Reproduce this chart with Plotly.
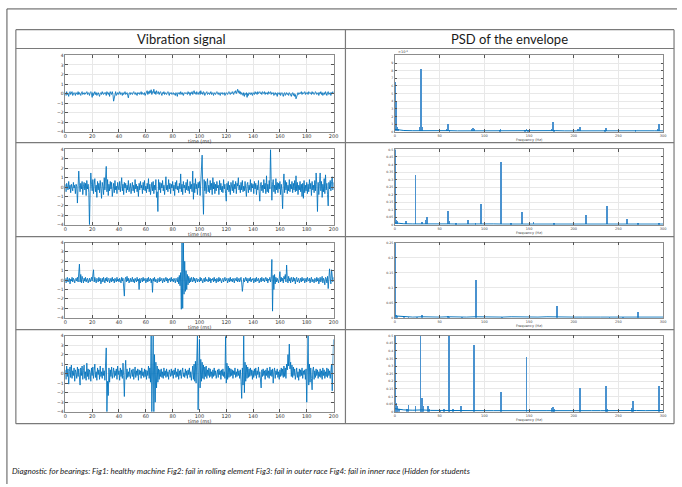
import plotly.graph_objects as go

W, H = 682, 487

# ---------------- data ----------------
time_step_ms = 0.5  # sample spacing of the vibration signals

vib_healthy = [
 0.1,-0.2,0.2,-0.1,0.0,-0.3,0.1,0.2,-0.1,0.0,0.2,-0.2,-0.1,0.1,0.0,-0.2,0.1,0.0,-0.1,0.2,
 -0.1,0.1,0.0,-0.2,0.1,0.2,-0.1,0.0,0.1,-0.1,0.0,0.1,0.2,-0.1,0.1,0.0,-0.2,0.1,0.2,0.0,
 -0.4,0.1,-0.2,0.0,0.2,-0.1,0.1,-0.2,0.0,0.1,-0.1,-0.3,0.0,0.1,-0.1,0.2,0.0,-0.1,0.1,0.0,
 0.1,-0.2,0.2,0.0,-0.1,0.1,-0.3,0.2,0.0,-0.1,0.2,-0.1,-0.8,-0.3,0.1,0.2,-0.2,0.0,0.1,-0.1,
 0.0,0.2,-0.1,0.1,0.0,-0.2,0.1,-0.1,0.0,0.2,-0.1,0.0,0.1,-0.2,-0.45,0.0,0.1,-0.1,0.1,0.0,
 -0.1,0.1,0.2,0.0,-0.1,0.1,0.0,-0.2,0.1,0.0,0.1,-0.1,0.0,0.2,-0.1,0.1,0.0,-0.1,0.1,-0.2,
 0.0,0.1,0.3,-0.1,0.2,0.0,0.3,0.1,0.4,-0.1,0.2,0.1,0.45,0.0,0.2,-0.1,0.3,0.1,0.0,0.2,
 -0.1,0.1,0.2,0.0,-0.2,0.1,0.0,0.2,-0.1,0.1,0.0,-0.1,0.1,0.2,0.0,-0.2,0.1,0.0,0.1,-0.1,
 0.0,0.1,-0.1,0.0,-0.2,0.1,0.0,-0.3,0.1,0.0,0.1,-0.1,0.2,0.0,-0.1,0.1,-0.2,0.0,0.1,0.0,
 0.1,0.0,-0.1,0.2,0.0,0.1,-0.2,0.1,0.0,0.2,-0.1,0.1,0.3,0.0,0.1,-0.1,0.2,0.0,-0.1,0.1,
 0.2,-0.1,0.3,0.0,0.1,-0.1,0.2,0.1,-0.2,0.0,0.1,0.2,-0.1,0.0,0.1,-0.1,0.0,0.2,-0.1,0.1,
 0.0,-0.2,0.1,0.0,-0.1,0.1,0.2,0.0,-0.1,0.1,0.0,-0.2,0.1,0.0,0.1,-0.1,0.0,0.1,-0.2,0.0,
 0.1,0.0,-0.1,0.1,0.2,0.0,-0.1,0.1,0.0,0.2,0.1,-0.1,0.2,0.1,0.3,0.0,0.2,0.45,0.1,0.3,
 0.0,0.2,-0.1,0.1,0.0,-0.2,0.1,-0.3,0.0,-0.1,0.1,-0.4,0.0,-0.2,0.1,0.0,-0.1,0.1,0.0,-0.2,
 0.1,0.0,-0.1,0.2,0.0,0.1,-0.1,0.2,0.0,0.1,0.2,0.0,0.1,-0.1,0.2,0.1,0.0,0.2,-0.1,0.1,
 0.0,0.1,-0.1,0.2,0.0,0.1,0.2,-0.1,0.1,0.0,0.1,-0.2,0.0,0.1,-0.1,0.0,-0.3,0.1,0.0,-0.1,
 0.1,-0.2,0.0,0.1,-0.1,-0.3,0.0,0.1,-0.2,0.0,0.1,-0.1,0.0,-0.2,0.1,0.0,-0.1,-0.3,0.0,0.1,
 -0.2,0.0,-0.3,-0.1,-0.55,-0.2,0.0,0.1,-0.1,0.0,0.1,0.0,0.2,-0.1,0.1,0.0,0.1,0.2,-0.1,0.1,
 0.0,0.1,-0.1,0.2,0.1,0.0,0.1,-0.1,0.2,0.0,0.1,-0.1,0.0,0.2,0.1,-0.1,0.0,0.1,-0.2,0.1,
 0.0,0.2,-0.1,0.1,-0.2,0.0,0.1,-0.1,0.2,0.0,-0.2,0.1,0.2,-0.1,0.0,0.1,-0.2,0.1,0.0,0.2,
 0.0]

vib_rolling = [
 0.3,-0.5,0.4,0.1,-0.3,0.6,-0.2,0.2,-0.6,0.3,0.0,-0.4,0.5,-0.1,0.2,-0.7,0.3,0.1,-1.7,-0.3,
 1.7,0.2,-0.5,0.4,-0.2,0.6,-0.8,0.1,0.5,-0.3,0.4,-0.9,0.7,-0.2,0.3,-0.6,-4.0,-0.5,1.5,0.3,
 -0.4,0.8,-0.7,0.3,0.9,-0.5,0.2,-1.1,0.6,-0.3,0.4,-0.6,0.7,-0.2,-1.2,0.5,0.1,-0.8,1.0,-0.3,
 0.6,2.2,-0.5,0.8,-0.9,0.3,-0.4,0.6,-0.2,0.5,-1.0,0.2,0.4,-0.6,0.7,-0.3,0.1,-0.7,0.5,0.0,
 -0.3,0.6,-0.5,0.2,1.0,-0.4,0.3,-0.8,0.5,-0.1,0.4,-0.6,0.2,-0.3,0.7,-0.5,0.1,0.4,-0.7,0.3,
 0.5,-0.4,0.2,-0.6,0.8,-0.2,0.3,-0.5,0.1,-1.0,0.4,-0.3,0.6,-0.1,0.2,-0.7,0.5,-0.3,0.7,-0.4,
 0.1,-0.6,0.4,-0.2,0.9,-0.5,0.3,-0.8,0.2,0.5,-0.4,0.6,-0.7,0.2,-0.3,0.8,-1.1,-0.5,-2.6,0.8,
 -0.3,0.5,-0.6,0.4,-0.1,0.7,-0.4,0.2,-0.8,0.6,1.1,-0.3,0.2,-0.5,0.8,-0.2,0.4,-0.7,0.3,-0.1,
 0.6,-0.4,0.2,-0.9,0.5,-0.2,0.7,-0.3,0.1,-0.6,0.4,-0.2,1.4,-0.5,0.3,-0.8,0.6,-0.1,0.2,-0.6,
 0.5,-0.3,0.8,-0.4,0.1,-0.7,0.6,-0.2,0.3,-0.5,1.7,-1.3,0.4,-0.6,0.9,-0.2,0.3,-0.8,0.5,-0.1,
 0.6,-0.9,0.2,1.2,3.4,-0.5,-2.9,0.8,-0.4,0.6,-0.7,0.3,0.9,-0.5,0.2,-0.6,0.7,-0.3,0.4,-0.8,
 1.0,-0.2,0.5,-0.7,0.3,-0.4,0.6,-0.1,0.2,-0.8,0.7,-0.3,0.4,-0.5,0.1,-0.6,0.8,-0.2,0.3,-0.7,
 -1.5,0.4,-0.3,0.6,-0.5,0.2,-0.8,0.5,0.1,-0.4,0.7,-0.6,0.3,-0.2,0.6,-0.7,0.4,0.1,1.0,-0.3,
 0.2,-0.6,0.5,-0.3,0.7,-0.5,0.1,-0.4,0.6,-0.2,-1.0,0.3,0.5,-0.6,0.2,-0.3,0.8,-0.5,0.4,-0.1,
 0.3,-0.7,0.6,-0.2,0.4,-0.8,0.2,-0.3,0.7,-0.5,-1.5,0.3,0.5,-0.4,0.2,-0.6,0.8,-0.2,0.4,-0.7,
 1.2,-0.5,0.3,-0.6,0.7,-0.2,4.0,0.6,-1.4,0.3,0.8,-0.5,0.2,-0.7,0.9,-0.3,0.5,-0.6,0.4,-0.2,
 0.6,-0.8,0.3,-0.4,-2.3,0.2,1.4,-0.6,0.7,-0.3,0.5,-0.7,0.2,-0.4,0.8,-0.5,0.3,-0.2,0.6,-0.6,
 0.4,-0.3,0.7,-0.5,1.2,-0.4,0.5,-0.8,0.2,-0.3,0.6,-0.5,0.3,-1.0,0.4,-1.2,0.7,-0.6,0.2,-0.4,
 0.5,-0.7,0.3,-0.5,0.8,-0.2,0.4,-0.9,0.6,-0.3,0.2,-0.6,0.7,-0.4,1.5,0.3,-2.6,0.5,-0.8,0.4,
 1.5,-0.4,0.6,-1.1,0.3,-0.5,0.9,-0.7,1.3,-0.3,0.4,-0.8,-2.0,0.5,-0.2,0.7,-0.4,0.6,1.1,-0.3,
 0.5]

vib_outer = [
 0.2,-0.3,0.1,0.3,-0.2,0.0,0.2,-0.4,0.1,-0.1,0.3,-0.2,0.2,0.0,-0.3,0.1,0.2,-0.1,0.3,-0.2,
 0.5,1.7,-0.2,0.6,-0.3,0.4,0.1,-0.3,0.2,-0.1,0.3,-0.2,0.1,0.2,-0.3,0.0,0.2,-0.2,0.1,0.3,
 -0.1,0.4,1.1,-0.2,0.3,0.0,-0.3,0.2,0.1,-0.2,0.3,-0.1,0.2,-0.4,0.1,0.2,-0.2,0.3,0.0,-0.3,
 0.2,-0.1,0.3,-0.2,0.1,0.2,-0.3,0.0,0.2,-0.2,0.3,-0.1,0.1,-0.3,0.2,0.0,-0.2,0.3,-0.1,0.1,
 -0.2,0.2,0.0,-0.3,0.3,-0.1,0.2,-0.5,-1.7,0.1,0.3,-0.2,0.4,-0.1,0.2,-0.3,0.1,0.2,-0.2,0.0,
 0.3,-0.2,0.1,-0.3,0.2,0.0,-0.2,0.3,-0.1,0.1,-1.0,0.2,-0.3,0.1,0.2,-0.2,0.3,-0.1,0.0,0.2,
 -0.3,0.1,0.2,-0.2,0.3,-0.1,0.0,0.2,-0.3,0.1,-1.3,0.2,-0.1,0.3,-0.2,0.1,0.0,-0.3,0.2,0.1,
 -0.2,0.3,-0.1,0.1,0.2,-0.3,0.0,0.2,-0.2,0.1,0.3,-0.1,0.2,-0.3,0.1,0.0,0.2,-0.2,0.3,-0.1,
 0.1,-0.2,0.2,0.0,-0.3,0.2,0.1,-0.2,0.3,-0.4,0.5,-0.6,0.8,-3.1,4.0,-3.0,4.0,-1.5,2.0,-1.2,
 1.0,-1.0,0.6,-0.5,0.4,-0.3,0.2,-0.2,0.3,0.0,-0.2,0.3,-0.1,0.2,-0.3,0.1,0.2,-0.2,0.1,0.0,
 -0.2,0.3,-0.1,0.2,0.0,-0.3,0.1,0.2,-0.2,0.3,-0.1,0.1,0.0,-0.2,0.3,-0.1,0.2,-0.3,0.1,0.0,
 0.2,-0.2,0.3,-0.1,0.1,-0.3,0.2,0.0,-0.2,0.3,-0.1,0.2,0.0,-0.3,0.1,0.2,-0.2,0.1,0.3,-0.1,
 0.0,0.2,-0.3,0.1,0.2,-0.2,0.3,-0.1,0.1,-0.2,0.2,0.0,-0.3,0.2,0.1,-0.1,0.3,-0.2,0.0,0.2,
 -0.2,0.1,0.3,-0.3,-1.2,-0.5,0.2,-0.2,0.1,0.3,-0.1,0.2,-0.3,0.0,0.2,-0.1,0.3,-0.2,0.1,0.0,
 0.2,-0.3,0.1,0.2,-0.2,0.3,-0.1,0.0,0.2,-0.3,0.1,0.2,-0.2,0.3,0.0,-0.1,0.2,-0.2,0.1,0.3,
 -0.1,0.2,-0.3,0.1,0.0,0.3,-0.2,0.2,2.2,-3.3,0.5,-1.0,0.6,-0.4,0.3,-0.2,0.2,0.0,-0.3,0.2,
 0.9,-0.2,0.3,-0.1,0.2,-0.3,0.4,0.1,0.6,-0.2,1.6,0.2,-0.3,0.4,-0.1,0.2,-0.3,0.3,0.0,-0.2,
 0.3,-0.1,0.2,-0.4,0.1,0.3,-0.2,0.0,0.2,-0.3,0.1,0.2,-0.2,0.3,-0.1,0.0,0.2,-0.3,0.1,0.2,
 -0.2,0.3,0.0,-0.1,0.2,-0.3,0.1,0.3,-0.2,0.1,0.0,-0.3,0.2,0.1,-0.2,0.3,-0.1,0.2,-0.4,0.1,
 0.3,-0.2,0.1,0.4,-0.3,0.2,0.0,-0.5,0.3,0.2,-0.3,0.4,-0.9,0.6,1.2,0.2,-0.4,1.1,0.0,-0.2,
 0.3]

vib_inner = [
 0.4,-0.6,0.8,-0.3,0.5,-1.1,0.2,0.7,-0.4,0.9,-0.5,0.3,-0.2,0.6,-0.8,0.4,0.1,-0.5,0.7,-0.3,
 0.5,-0.4,-1.2,0.6,-0.2,0.8,-0.6,0.3,0.9,-0.5,0.2,-0.7,1.1,-0.3,0.5,-0.6,0.4,0.1,-0.8,0.6,
 -0.2,0.7,-0.5,0.3,1.0,-0.4,0.2,-0.7,0.6,-0.1,0.4,-0.6,0.8,-0.3,0.2,-0.5,0.6,-0.2,0.3,-0.7,
 0.5,2.7,-4.0,-0.8,-2.3,0.6,-0.9,0.4,-0.3,0.7,-0.5,0.2,0.6,-0.4,0.3,-0.2,0.5,-0.6,0.8,-0.1,
 0.3,-0.7,0.6,-0.3,0.4,-0.5,1.1,-0.2,-2.4,0.3,1.4,-0.6,0.5,-0.4,0.2,-0.3,0.6,-0.5,0.1,0.4,
 -0.3,0.5,-0.6,0.2,0.7,-0.4,0.3,-0.2,0.5,-0.7,0.4,-0.1,0.3,-0.5,0.6,-0.2,0.2,-0.4,0.5,-0.3,
 0.4,-0.6,0.3,-0.2,0.8,-0.5,0.6,-0.9,4.0,-4.0,1.5,4.0,-4.0,2.0,-3.0,1.2,-1.5,0.8,-0.9,0.5,
 -0.6,0.4,-0.3,0.5,-0.4,0.2,-0.5,0.6,-0.2,0.3,-0.4,0.5,-0.3,0.2,-0.6,0.4,0.1,-0.3,0.5,-0.2,
 0.3,-0.5,0.4,-0.1,0.6,-0.4,0.2,-0.3,0.5,-0.6,0.3,-0.2,0.4,-0.5,0.2,0.6,-0.3,0.1,-0.4,0.5,
 -0.2,0.3,-0.5,0.4,-0.1,0.6,-0.4,0.2,-0.7,0.5,0.8,-0.6,1.0,-0.8,1.3,-1.0,0.9,4.0,-3.8,1.6,
 3.6,-1.5,1.5,-0.8,1.2,-0.5,0.9,-0.6,0.7,-0.3,0.8,-0.5,0.4,-0.2,0.6,-0.4,0.5,-0.3,0.2,-0.5,
 0.4,-0.3,0.6,-0.2,0.3,-0.5,0.2,0.4,-0.4,0.5,-0.1,0.3,-0.6,0.4,-0.2,0.5,-0.3,0.2,-0.5,3.9,
 -1.0,1.1,-0.6,0.8,-0.4,0.6,-0.3,0.5,-0.2,0.4,-0.5,0.3,-0.1,0.6,-0.4,0.2,-0.3,0.5,-0.2,0.3,
 -0.5,0.4,-0.8,-2.6,0.6,-1.2,4.0,-2.0,1.2,-0.8,0.9,-0.5,0.7,-0.4,0.5,-0.3,0.6,-0.2,0.4,-0.6,
 0.3,-0.4,0.5,-0.2,0.6,-0.5,0.3,-0.1,0.7,-0.4,0.2,-0.6,-1.5,0.4,-0.3,0.5,-0.2,0.3,-0.6,0.4,
 -0.2,0.6,-0.4,0.3,-0.5,0.7,-0.2,0.4,-0.3,0.5,-1.0,0.2,0.6,-0.5,0.3,-0.1,0.5,-0.4,0.2,-0.6,
 0.4,-0.3,0.6,-0.2,0.5,-0.4,0.8,-0.3,0.6,-0.5,1.0,0.4,2.0,0.8,3.1,0.5,1.2,-0.3,0.9,-0.4,
 0.7,-0.2,0.5,-0.6,0.3,0.6,-0.4,0.2,-0.7,0.5,-0.3,0.4,-0.2,0.6,-0.5,0.3,-0.1,0.4,-0.6,0.5,
 -3.0,0.8,4.0,-1.2,1.0,-0.9,0.6,-0.5,-1.7,0.4,0.7,-0.6,0.3,-0.4,0.5,-0.2,0.4,-0.5,0.2,-0.3,
 0.5,-0.4,0.3,-0.6,0.6,-0.2,0.4,-0.5,0.2,-0.3,0.6,-0.4,0.5,-0.2,0.3,-0.5,0.7,1.0,-1.8,1.5,
 3.6]

# PSD of the envelope: spectral lines (Hz, value)
psd1_freq = [0.2, 0.8, 1.4, 2.0, 3.0, 28.0, 29.5, 30.5, 58.0, 59.5, 61.0, 86.0, 87.5, 89.0,
             117.0, 118.0, 145.0, 147.0, 149.0, 175.0, 176.5, 178.0, 205.0, 206.5, 235.0, 236.0,
             269.0, 294.0, 295.0]
psd1_val = [6.4e-3, 3.8e-3, 1.2e-3, 0.6e-3, 0.3e-3, 0.5e-3, 8.2e-3, 0.6e-3, 0.3e-3, 0.9e-3, 0.2e-3,
            0.3e-3, 0.4e-3, 0.3e-3, 0.2e-3, 0.3e-3, 0.2e-3, 0.35e-3, 0.2e-3, 0.3e-3, 1.2e-3, 0.2e-3,
            0.3e-3, 0.6e-3, 0.2e-3, 0.4e-3, 0.2e-3, 0.3e-3, 1.0e-3]

psd2_freq = [0.2, 1.0, 2.0, 12.0, 23.0, 30.0, 35.0, 36.0, 59.0, 60.0, 68.0, 82.0, 90.0, 96.0,
             118.5, 130.0, 142.0, 155.0, 178.0, 214.0, 237.0, 259.5, 272.0, 295.0]
psd2_val = [0.5, 0.03, 0.02, 0.02, 0.325, 0.015, 0.03, 0.05, 0.087, 0.02, 0.01, 0.03, 0.01, 0.133,
            0.413, 0.01, 0.08, 0.015, 0.01, 0.061, 0.12, 0.037, 0.01, 0.01]

psd3_freq = [0.2, 1.0, 2.0, 10.0, 15.0, 25.0, 30.0, 59.0, 60.0, 75.0, 90.5, 120.0, 181.0,
             240.0, 255.0, 272.0]
psd3_val = [0.25, 0.012, 0.008, 0.004, 0.004, 0.005, 0.011, 0.008, 0.005, 0.003, 0.128, 0.003,
            0.041, 0.003, 0.002, 0.021]

psd4_freq = [0.2, 1.0, 2.0, 3.0, 5.0, 13.0, 15.0, 23.0, 28.5, 29.5, 30.5, 31.5, 37.0, 38.0, 50.0,
             55.0, 60.0, 61.0, 65.0, 74.0, 88.0, 118.5, 147.0, 175.0, 176.5, 178.0, 207.0,
             236.0, 237.0, 265.0, 266.5, 295.0]
psd4_val = [0.5, 0.06, 0.04, 0.02, 0.02, 0.02, 0.05, 0.04, 0.5, 0.06, 0.096, 0.04, 0.04, 0.02,
            0.015, 0.02, 0.5, 0.03, 0.02, 0.04, 0.443, 0.13, 0.36, 0.03, 0.035, 0.02, 0.156,
            0.174, 0.02, 0.03, 0.074, 0.17]

# noise floor of each PSD, sampled every 10 Hz
floor_freq = [0, 10, 20, 30, 40, 50, 60, 70, 80, 90, 100, 110, 120, 130, 140, 150, 160, 170,
              180, 190, 200, 210, 220, 230, 240, 250, 260, 270, 280, 290, 300]
psd1_floor = [0.30e-3, 0.15e-3, 0.12e-3, 0.14e-3, 0.10e-3, 0.12e-3, 0.13e-3, 0.10e-3, 0.11e-3,
              0.12e-3, 0.10e-3, 0.11e-3, 0.13e-3, 0.10e-3, 0.12e-3, 0.11e-3, 0.10e-3, 0.12e-3,
              0.13e-3, 0.10e-3, 0.11e-3, 0.12e-3, 0.10e-3, 0.11e-3, 0.12e-3, 0.10e-3, 0.11e-3,
              0.10e-3, 0.12e-3, 0.11e-3, 0.10e-3]
psd2_floor = [0.012, 0.006, 0.005, 0.006, 0.004, 0.005, 0.005, 0.004, 0.005, 0.004, 0.004,
              0.005, 0.004, 0.004, 0.005, 0.004, 0.004, 0.005, 0.004, 0.004, 0.005, 0.004,
              0.004, 0.005, 0.004, 0.004, 0.005, 0.004, 0.004, 0.005, 0.004]
psd3_floor = [0.006, 0.003, 0.002, 0.003, 0.002, 0.002, 0.003, 0.002, 0.002, 0.003, 0.002,
              0.002, 0.002, 0.003, 0.002, 0.002, 0.002, 0.003, 0.002, 0.002, 0.002, 0.002,
              0.003, 0.002, 0.002, 0.002, 0.003, 0.002, 0.002, 0.002, 0.002]
psd4_floor = [0.02, 0.012, 0.01, 0.012, 0.009, 0.008, 0.01, 0.008, 0.007, 0.008, 0.007, 0.007,
              0.008, 0.007, 0.007, 0.008, 0.007, 0.007, 0.008, 0.007, 0.007, 0.008, 0.007,
              0.007, 0.008, 0.007, 0.007, 0.008, 0.007, 0.007, 0.008]

psd1_ticks = [0, 1e-3, 2e-3, 3e-3, 4e-3, 5e-3, 6e-3, 7e-3, 8e-3, 9e-3]
psd1_ticktext = ["0", "1", "2", "3", "4", "5", "6", "7", "8", "9"]

col_titles = ["Vibration signal", "PSD of the envelope"]
time_label = "time (ms)"
freq_label = "Frequency (Hz)"
caption = ("Diagnostic for bearings: Fig1: healthy machine Fig2: fail in rolling element "
           "Fig3: fail in outer race Fig4: fail in inner race (Hidden for students")

# ---------------- layout helpers ----------------
def px(x):
    return x / W

def py(y):
    return 1 - y / H

LEFT_X = (64, 335)
RIGHT_X = (397, 668)
ROWS = [(54, 131), (149, 225), (243, 319), (337, 414)]

LINE_BLUE = "#0072BD"
BAR_BLUE = "#4a92cf"
AX_GRAY = "#8c8c8c"
GRID = "#e8e8e8"

vibs = [vib_healthy, vib_rolling, vib_outer, vib_inner]
psds = [(psd1_freq, psd1_val, psd1_floor), (psd2_freq, psd2_val, psd2_floor),
        (psd3_freq, psd3_val, psd3_floor), (psd4_freq, psd4_val, psd4_floor)]
psd_ranges = [[0, 0.01], [0, 0.5], [0, 0.25], [0, 0.5]]

fig = go.Figure()
layout = {}
annotations = []

def axname(i, letter):
    return letter if i == 1 else f"{letter}{i}"

def keyname(i, letter):
    return f"{letter}axis" if i == 1 else f"{letter}axis{i}"

for r, (top, bot) in enumerate(ROWS):
    ydom = [py(bot), py(top)]
    # ---- left: vibration signal ----
    i = 2 * r + 1
    vals = vibs[r]
    t = [k * time_step_ms for k in range(len(vals))]
    fig.add_trace(go.Scatter(x=t, y=vals, mode="lines",
                             line=dict(color=LINE_BLUE, width=0.85),
                             xaxis=axname(i, "x"), yaxis=axname(i, "y"),
                             showlegend=False, hoverinfo="skip"))
    common = dict(showline=True, linecolor=AX_GRAY, linewidth=0.8, mirror="allticks",
                  ticks="inside", ticklen=2.5, tickcolor="#555", tickwidth=0.6,
                  showgrid=True, gridcolor=GRID, gridwidth=0.6, zeroline=False)
    layout[keyname(i, "x")] = dict(domain=[px(LEFT_X[0]), px(LEFT_X[1])], anchor=axname(i, "y"),
                                   range=[0, 200], dtick=20, tick0=0, ticklabelstandoff=-1,
                                   tickfont=dict(family="DejaVu Sans", size=5, color="#333"),
                                   **common)
    layout[keyname(i, "y")] = dict(domain=ydom, anchor=axname(i, "x"),
                                   range=[-4, 4], dtick=1, tick0=0,
                                   tickfont=dict(family="DejaVu Sans", size=4.5, color="#333"),
                                   **common)
    annotations.append(dict(x=px((LEFT_X[0] + LEFT_X[1]) / 2), y=py(bot + 9.5), xref="paper",
                            yref="paper", text=time_label, showarrow=False,
                            font=dict(family="DejaVu Sans", size=4.8, color="#333"),
                            xanchor="center", yanchor="middle"))

    # ---- right: PSD of envelope ----
    i = 2 * r + 2
    f, v, fl = psds[r]
    fig.add_trace(go.Scatter(x=floor_freq, y=fl, mode="lines",
                             line=dict(color=LINE_BLUE, width=1),
                             xaxis=axname(i, "x"), yaxis=axname(i, "y"),
                             showlegend=False, hoverinfo="skip"))
    fig.add_trace(go.Bar(x=f, y=v, width=0.9, marker=dict(color=BAR_BLUE, line=dict(width=0)),
                         xaxis=axname(i, "x"), yaxis=axname(i, "y"),
                         showlegend=False, hoverinfo="skip"))
    layout[keyname(i, "x")] = dict(domain=[px(RIGHT_X[0]), px(RIGHT_X[1])], anchor=axname(i, "y"),
                                   range=[0, 300], dtick=50, tick0=0,
                                   tickfont=dict(family="DejaVu Sans", size=3.5, color="#444"),
                                   **common)
    yax = dict(domain=ydom, anchor=axname(i, "x"), range=psd_ranges[r],
               tickfont=dict(family="DejaVu Sans", size=3.2, color="#444"), **common)
    if r == 0:
        yax.update(tickvals=psd1_ticks, ticktext=psd1_ticktext)
    else:
        yax.update(dtick=0.05, tick0=0)
    layout[keyname(i, "y")] = yax
    annotations.append(dict(x=px((RIGHT_X[0] + RIGHT_X[1]) / 2), y=py(bot + 8), xref="paper",
                            yref="paper", text=freq_label, showarrow=False,
                            font=dict(family="DejaVu Sans", size=3.5, color="#444"),
                            xanchor="center", yanchor="middle"))

# exponent marker of first PSD
annotations.append(dict(x=px(398), y=py(51), xref="paper", yref="paper",
                        text="×10<sup>-3</sup>", showarrow=False,
                        font=dict(family="DejaVu Sans", size=3.5, color="#444"),
                        xanchor="left", yanchor="middle"))

# column headers
annotations.append(dict(x=px((14 + 347) / 2), y=py(37.5), xref="paper", yref="paper",
                        text=col_titles[0], showarrow=False,
                        font=dict(family="Lato", size=13, color="#1a1a1a"),
                        xanchor="center", yanchor="middle"))
annotations.append(dict(x=px((347 + 679) / 2), y=py(37.5), xref="paper", yref="paper",
                        text=col_titles[1], showarrow=False,
                        font=dict(family="Lato", size=13, color="#1a1a1a"),
                        xanchor="center", yanchor="middle"))
# caption
annotations.append(dict(x=px(8), y=py(474), xref="paper", yref="paper",
                        text=f"<i>{caption}</i>", showarrow=False,
                        font=dict(family="Lato", size=8, color="#1a1a1a"),
                        xanchor="left", yanchor="middle"))

# table and page frame lines
shapes = []
def hline(y, x0, x1, color="#7a7a7a", w=1.2):
    shapes.append(dict(type="line", xref="paper", yref="paper", x0=px(x0), x1=px(x1),
                       y0=py(y), y1=py(y), line=dict(color=color, width=w)))

def vline(x, y0, y1, color="#7a7a7a", w=1.2):
    shapes.append(dict(type="line", xref="paper", yref="paper", x0=px(x), x1=px(x),
                       y0=py(y0), y1=py(y1), line=dict(color=color, width=w)))

for yy in [28, 47, 142, 237, 331, 426]:
    hline(yy, 14, 679)
for xx in [14, 347, 679]:
    vline(xx, 28, 426)
hline(7, 5, 682, color="#555", w=1)
vline(5, 7, 487, color="#555", w=1)

fig.update_layout(width=W, height=H, margin=dict(l=0, r=0, t=0, b=0),
                  paper_bgcolor="white", plot_bgcolor="white",
                  annotations=annotations, shapes=shapes, bargap=0,
                  showlegend=False, **layout)

fig.write_html("out.html", config={"displayModeBar": False},
               post_script="document.body.style.margin='0';document.body.style.overflow='hidden';")
